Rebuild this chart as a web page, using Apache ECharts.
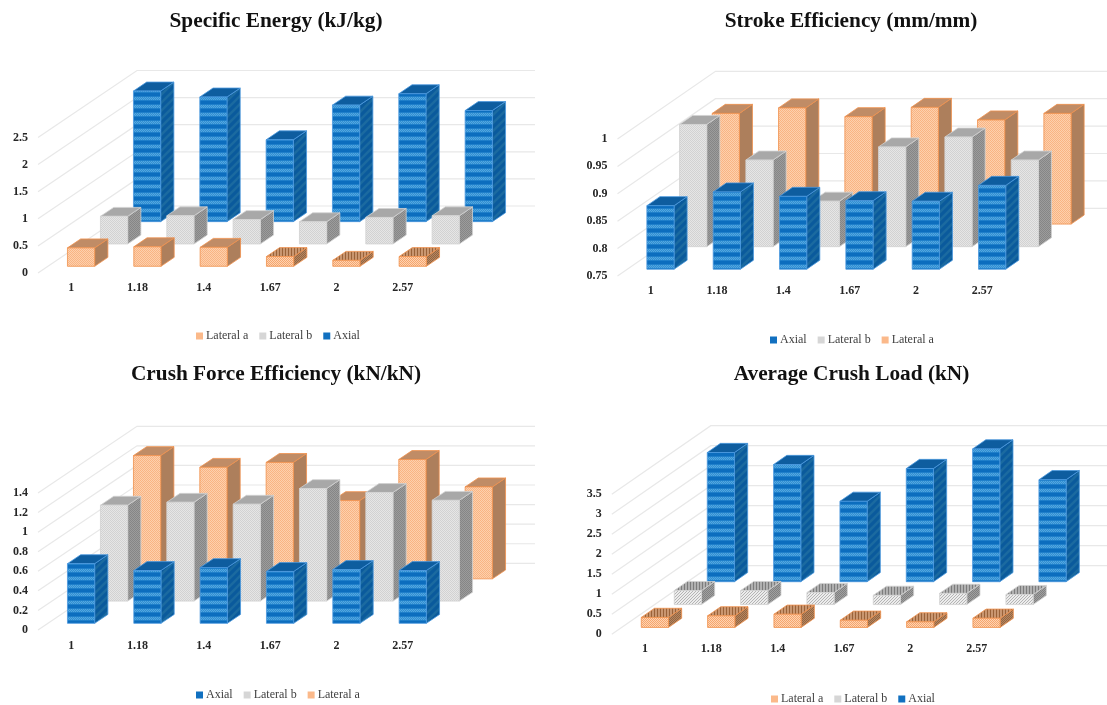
<!DOCTYPE html>
<html><head><meta charset="utf-8">
<style>html,body{margin:0;padding:0;background:#fff}#c{width:1107px;height:705px;filter:blur(0.5px)}</style>
<script src="https://cdn.jsdelivr.net/npm/echarts@6/dist/echarts.min.js"></script>
</head><body><div id="c"></div>
<script>
const categories = ['1','1.18','1.4','1.67','2','2.57'];
const energyAxial = [2.41,2.30,1.51,2.15,2.36,2.05];
const energyLateralB = [0.51,0.52,0.45,0.41,0.49,0.52];
const energyLateralA = [0.34,0.36,0.35,0.18,0.11,0.18];
const strokeAxial = [0.866,0.891,0.883,0.875,0.874,0.903];
const strokeLateralB = [0.973,0.908,0.833,0.932,0.950,0.908];
const strokeLateralA = [0.952,0.962,0.946,0.963,0.940,0.952];
const forceAxial = [0.61,0.54,0.57,0.53,0.55,0.54];
const forceLateralB = [0.98,1.01,0.99,1.15,1.11,1.03];
const forceLateralA = [1.26,1.14,1.19,0.80,1.22,0.94];
const loadAxial = [3.23,2.93,2.01,2.83,3.32,2.55];
const loadLateralB = [0.35,0.35,0.30,0.23,0.28,0.25];
const loadLateralA = [0.25,0.29,0.33,0.18,0.14,0.23];
const energyTicks = [0,0.5,1,1.5,2,2.5];
const strokeTicks = [0.75,0.8,0.85,0.9,0.95,1];
const forceTicks = [0,0.2,0.4,0.6,0.8,1,1.2,1.4];
const loadTicks = [0,0.5,1,1.5,2,2.5,3,3.5];

function tile(w,h,draw){const c=document.createElement('canvas');c.width=w;c.height=h;draw(c.getContext('2d'));return {image:c,repeat:'repeat'};}
function dots(base,dot){return tile(2,2,g=>{g.fillStyle=base;g.fillRect(0,0,2,2);g.fillStyle=dot;g.fillRect(0,0,1,1);g.fillRect(1,1,1,1);});}
function diag(n,base,line,lw){return tile(n,n,g=>{g.fillStyle=base;g.fillRect(0,0,n,n);g.strokeStyle=line;g.lineWidth=lw;g.beginPath();g.moveTo(-1,n+1);g.lineTo(n+1,-1);g.moveTo(-n/2-1,n/2+1);g.lineTo(n/2+1,-n/2-1);g.moveTo(n/2-1,n*1.5+1);g.lineTo(n*1.5+1,n/2-1);g.stroke();});}
function vert(base,line){return tile(3,3,g=>{g.fillStyle=base;g.fillRect(0,0,3,3);g.fillStyle=line;g.fillRect(0,0,1,3);});}
const axialFront = tile(4,8,g=>{
  g.fillStyle='#0c6dbe';g.fillRect(0,0,4,8);
  g.fillStyle='#1f7fca';g.fillRect(0,0,4,1);g.fillRect(0,4,4,1);
  g.fillStyle='#2f8fd4';g.fillRect(0,1,4,3);
  g.fillStyle='#55a6de';for(let y=1;y<4;y++)for(let x=y%2;x<4;x+=2)g.fillRect(x,y,1,1);
});
const axialSide = diag(8,'#0a5a9c','#1b6aa0',2.6);
const looks = {
  axial:{front:axialFront,frontLow:axialFront,side:axialSide,sideLow:axialSide,top:'#0e5d9f',hatch:vert('#0e5d9f','#0a4c85'),stroke:'#4a98de',legend:'#1170c0'},
  b:{front:dots('#e6e6e6','#d2d2d2'),frontLow:diag(3,'#ececec','#b4b4b4',1),side:dots('#9c9c9c','#868686'),sideLow:dots('#a0a0a0','#808080'),top:'#a8a8a8',hatch:vert('#b0b0b0','#7c7c7c'),stroke:'#d2d2d2',legend:'#d6d6d6'},
  a:{front:dots('#fdd0ad','#f9b483'),frontLow:dots('#fdd3b3','#f6a56c'),side:'#ad7f5c',sideLow:dots('#b48662','#95653f'),top:'#c08c66',hatch:vert('#c99670','#9a6238'),stroke:'#f0914c',legend:'#fbb98a'}
};
const names = {axial:'Axial',b:'Lateral b',a:'Lateral a'};

const panels = [
 {title:'Specific Energy (kJ/kg)',cx:271,ty:6,left:38,bottom:273,w:398,h:135.5,dx:99,dy:67,ticks:energyTicks,step:0.5,margin:10,lx:196,ly:330,xm:9,
  rows:[['a',energyLateralA],['b',energyLateralB],['axial',energyAxial]]},
 {title:'Stroke Efficiency (mm/mm)',cx:846,ty:6,left:617.5,bottom:276,w:398,h:137,dx:98,dy:67.7,ticks:strokeTicks,step:0.05,margin:10,lx:770,ly:334,xm:9,
  rows:[['axial',strokeAxial],['b',strokeLateralB],['a',strokeLateralA]]},
 {title:'Crush Force Efficiency (kN/kN)',cx:271,ty:359,left:38,bottom:630,w:398,h:137,dx:99,dy:66.7,ticks:forceTicks,step:0.2,margin:10,lx:196,ly:689,xm:10,
  rows:[['axial',forceAxial],['b',forceLateralB],['a',forceLateralA]]},
 {title:'Average Crush Load (kN)',cx:846.5,ty:359,left:611.8,bottom:634.3,w:398,h:140,dx:99,dy:68.6,ticks:loadTicks,step:0.5,margin:10,lx:771,ly:693,xm:9,
  rows:[['a',loadLateralA],['b',loadLateralB],['axial',loadAxial]]}
];
const font = '"Liberation Serif","Times New Roman",serif';
const titles=[],grids=[],xAxes=[],yAxes=[],legends=[],series=[];
panels.forEach((p,k)=>{
  const min=p.ticks[0],max=p.ticks[p.ticks.length-1];
  titles.push({text:p.title,left:p.cx,top:p.ty,textAlign:'center',textStyle:{fontFamily:font,fontWeight:'bold',fontSize:21.3,color:'#111'}});
  grids.push({left:p.left,width:p.w,top:p.bottom-p.h,height:p.h});
  xAxes.push({gridIndex:k,type:'category',data:categories,axisLine:{show:false},axisTick:{show:false},
    axisLabel:{margin:p.xm,interval:0,fontFamily:font,fontWeight:'bold',fontSize:12,color:'#262626'}});
  yAxes.push({gridIndex:k,type:'value',min,max,interval:p.step,axisLine:{show:false},axisTick:{show:false},splitLine:{show:false},
    axisLabel:{margin:p.margin,fontFamily:font,fontWeight:'bold',fontSize:12,color:'#262626'}});
  legends.push({left:p.lx,top:p.ly,icon:'rect',itemWidth:7,itemHeight:7,itemGap:11,padding:0,selectedMode:false,
    data:p.rows.map(r=>names[r[0]]),textStyle:{fontFamily:font,fontSize:12,color:'#404040',padding:[0,0,0,-2]}});
  series.push({type:'custom',xAxisIndex:k,yAxisIndex:k,silent:true,animation:false,encode:{x:0,y:1},
    data:p.ticks.map(t=>[0,t]),
    renderItem(params,api){
      const c=api.coord([0,api.value(1)]),cell=api.size([1,0])[0],x=c[0]-cell/2;
      return {type:'polyline',shape:{points:[[x,c[1]],[x+p.dx,c[1]-p.dy],[x+p.dx+cell*categories.length,c[1]-p.dy]]},
        style:{fill:null,stroke:'#e8e8e8',lineWidth:1.2}};
    }});
  for(let r=2;r>=0;r--){
    const [key,vals]=p.rows[r],look=looks[key];
    series.push({type:'custom',name:names[key],xAxisIndex:k,yAxisIndex:k,silent:true,animation:false,
      itemStyle:{color:look.legend},encode:{x:0,y:1},data:vals.map((v,i)=>[i,v]),
      renderItem(params,api){
        const i=api.value(0),top=api.coord([i,api.value(1)]),base=api.coord([i,min]);
        const cell=api.size([1,0])[0],w=cell*0.41,rx=p.dx/3,ry=p.dy/3;
        const x0=base[0]-w/2+(r+.3)*rx,x1=x0+w,yb=base[1]-(r+.3)*ry,yt=top[1]-(r+.3)*ry;
        const ax=.4*rx,ay=.4*ry,low=(yb-yt)<16;
        const st={stroke:look.stroke,lineWidth:0.8};
        return {type:'group',children:[
          {type:'polygon',shape:{points:[[x1,yb],[x1+ax,yb-ay],[x1+ax,yt-ay],[x1,yt]]},style:Object.assign({fill:low?look.sideLow:look.side},st)},
          {type:'polygon',shape:{points:[[x0,yt],[x0+ax,yt-ay],[x1+ax,yt-ay],[x1,yt]]},style:Object.assign({fill:low?look.hatch:look.top},st)},
          {type:'rect',shape:{x:x0,y:yt,width:w,height:yb-yt},style:Object.assign({fill:low?look.frontLow:look.front},st)}
        ]};
      }});
  }
});
const chart=echarts.init(document.getElementById('c'),null,{renderer:'canvas'});
chart.setOption({animation:false,backgroundColor:'#fff',title:titles,grid:grids,xAxis:xAxes,yAxis:yAxes,legend:legends,series});
</script></body></html>
